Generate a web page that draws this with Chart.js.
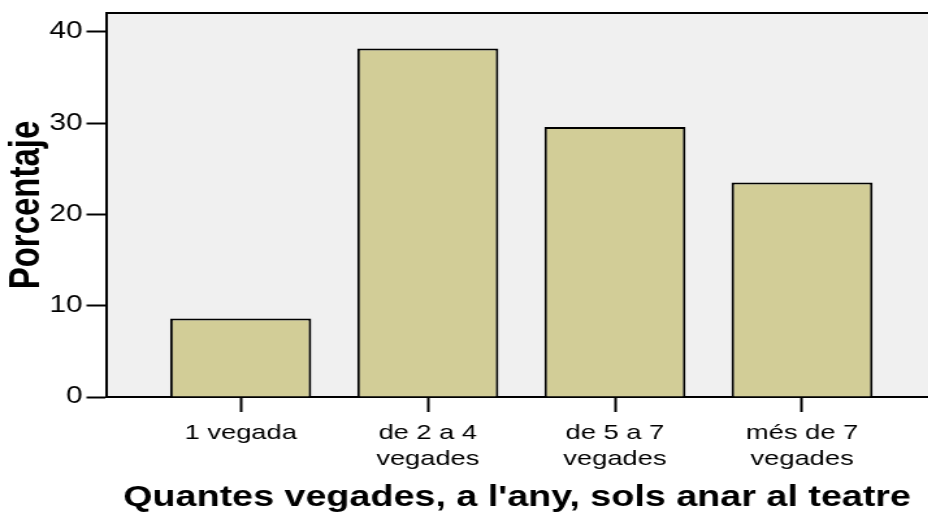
<!DOCTYPE html>
<html>
<head>
<meta charset="utf-8">
<script src="https://cdn.jsdelivr.net/npm/chart.js@4/dist/chart.umd.min.js"></script>
<style>
  html, body { margin: 0; padding: 0; background: #fff; overflow: hidden; }
  /* the original picture is stretched sideways, so the canvas is too */
  #wrap { width: 714px; height: 517px; transform: scaleX(1.3); transform-origin: 0 0; }
</style>
</head>
<body>
<div id="wrap"><canvas id="barChart" width="714" height="517"></canvas></div>
<script>
"use strict";
// Quantes vegades, a l'any, sols anar al teatre (percentatge)
var categories = [["1 vegada"], ["de 2 a 4", "vegades"], ["de 5 a 7", "vegades"], ["més de 7", "vegades"]];
var percentages = [8.6, 38.2, 29.6, 23.5];
var yTicks = [0, 10, 20, 30, 40];

var font = "'Liberation Sans', Arial, sans-serif";
Chart.defaults.color = "#000";
Chart.defaults.font.family = font;

// gray plot background + top frame line
var plotBackground = {
    id: 'plotBackground',
    beforeDraw: function (chart) {
        var ctx = chart.ctx, a = chart.chartArea;
        ctx.save();
        ctx.fillStyle = "#f0f0f0";
        ctx.fillRect(a.left, a.top, a.right - a.left, a.bottom - a.top);
        ctx.strokeStyle = "#000";
        ctx.lineWidth = 2;
        ctx.beginPath();
        ctx.moveTo(a.left, a.top);
        ctx.lineTo(a.right, a.top);
        ctx.stroke();
        ctx.restore();
    }
};

var ctx = document.getElementById("barChart");
var barChart = new Chart(ctx, {
    type: 'bar',
    data: {
        datasets: [{
            data: percentages.map(function (v, i) { return { x: i, y: v }; }),
            backgroundColor: "#d2cd97",
            borderColor: "#000",
            borderWidth: 2,
            barPercentage: 0.754,
            categoryPercentage: 1
        }]
    },
    options: {
        responsive: false,
        animation: false,
        layout: { padding: { top: 13, left: 0, right: 0, bottom: 0 } },
        plugins: {
            legend: { display: false },
            tooltip: { enabled: false }
        },
        scales: {
            x: {
                type: 'linear',
                offset: false,
                min: -0.72,
                max: 3.674,
                afterBuildTicks: function (axis) {
                    axis.ticks = categories.map(function (c, i) { return { value: i }; });
                },
                afterFit: function (axis) {
                    axis.height = 120;
                    axis.paddingLeft = 0;
                    axis.paddingRight = 0;
                },
                ticks: {
                    callback: function (v) { return categories[v]; },
                    font: { size: 21, lineHeight: 1.2 },
                    padding: 9,
                    maxRotation: 0,
                    autoSkip: false
                },
                grid: { offset: false, drawOnChartArea: false, drawTicks: true, tickLength: 15, tickWidth: 2, tickColor: "#000" },
                border: { display: true, color: "#000", width: 2 },
                title: {
                    display: true,
                    text: "Quantes vegades, a l'any, sols anar al teatre",
                    font: { size: 29, weight: 'bold' },
                    padding: { top: 0, bottom: 2 }
                }
            },
            y: {
                min: 0,
                max: 42.08,
                afterBuildTicks: function (axis) {
                    axis.ticks = yTicks.map(function (v) { return { value: v }; });
                },
                afterFit: function (axis) {
                    axis.width = 81.5;
                    axis.paddingTop = 0;
                    axis.paddingBottom = 0;
                },
                ticks: { font: { size: 23 }, padding: 3 },
                grid: { drawOnChartArea: false, drawTicks: true, tickLength: 15, tickWidth: 2, tickColor: "#000" },
                border: { display: true, color: "#000", width: 2 },
                title: {
                    display: true,
                    text: "Porcentaje",
                    font: { size: 33, weight: 'bold' },
                    padding: { top: 1, bottom: 0 }
                }
            }
        }
    },
    plugins: [plotBackground]
});
</script>
</body>
</html>
